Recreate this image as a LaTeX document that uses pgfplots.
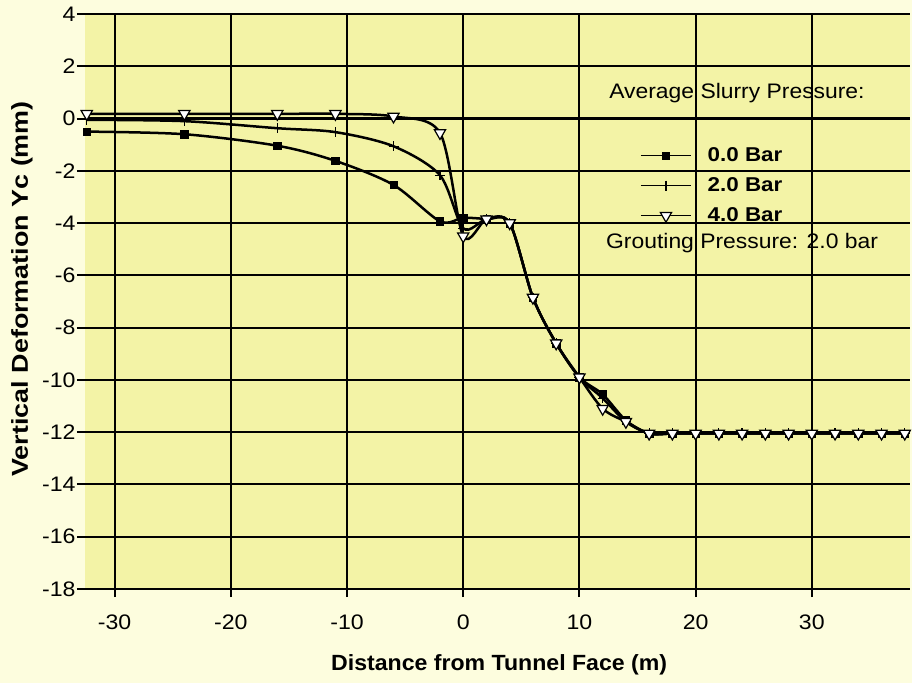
\documentclass[border=0pt]{standalone}
\usepackage{fontspec}
\setmainfont{Liberation Sans}
\newfontfamily\kfont[FakeStretch=1.1]{Liberation Sans}
\newfontfamily\tfont[FakeStretch=1.05]{Liberation Sans}
\newfontfamily\yfont[FakeStretch=1.17]{Liberation Sans}
\newfontfamily\lfont[FakeStretch=1.12]{Liberation Sans}
\newfontfamily\nfont[FakeStretch=1.09]{Liberation Sans}
\usepackage{pgfplots}
\pgfplotsset{compat=1.18}
\definecolor{outerbg}{RGB}{253,253,222}
\definecolor{plotbg}{RGB}{243,243,166}
\begin{document}
\begin{tikzpicture}[x=1pt,y=1pt]
\fill[outerbg] (0,0) rectangle (912,683);
\useasboundingbox (0,0) rectangle (912,683);
\begin{axis}[
  at={(85pt,94pt)}, anchor=south west,
  scale only axis, width=825pt, height=575pt,
  xmin=-32.55, xmax=38.45, ymin=-18, ymax=4,
  xtick={-30,-20,...,30}, ytick={-18,-16,...,4},
  grid=major, major grid style={black, line width=2pt},
  axis line style={draw=none},
  tick style={black, line width=2pt},
  major tick length=8pt, tick align=outside,
  xtick pos=bottom, ytick pos=left,
  ticklabel style={font=\kfont\fontsize{21}{22}\selectfont},
  xticklabel style={yshift=-14pt},
  yticklabel style={xshift=2pt},
  /pgf/number format/assume math mode=true,
  axis background/.style={fill=plotbg},
  extra y ticks={0}, extra y tick labels={},
  extra y tick style={major grid style={black, line width=3pt}},
  xlabel={Distance from Tunnel Face (m)},
  xlabel style={font=\tfont\bfseries\fontsize{22}{23}\selectfont, at={(axis description cs:0.502,-0.132)}, anchor=center},
  ylabel={Vertical Deformation Yc (mm)},
  ylabel style={font=\yfont\bfseries\fontsize{23}{24}\selectfont, at={(axis description cs:-0.0764,0.522)}, anchor=center},
  legend image code/.code={\draw[mark repeat=2,mark phase=2,#1,line width=1.4pt] plot coordinates {(0pt,0pt) (25pt,0pt) (50pt,0pt)};},
  legend style={at={(axis cs:15.22,-1.12)}, anchor=north west, draw=none, fill=none,
    inner sep=0pt, row sep=14.5pt, column sep=16pt,
    font=\lfont\bfseries\fontsize{20}{21}\selectfont,
    nodes={inner sep=0pt}},
  legend cell align=left,
  clip=false,
]
\addplot[black, line width=2.5pt, smooth, tension=0.5, mark=square*, mark size=3.7pt, mark options={solid, line width=0.5pt}]
coordinates {(-32.4,-0.5) (-24,-0.6) (-16,-1.04) (-11,-1.62) (-6,-2.54) (-2,-3.93) (0,-3.8) (2,-3.85) (4,-4.0) (6,-6.85) (8,-8.6) (10,-9.9) (12,-10.55) (14,-11.55) (16,-12.05) (18,-12.05) (20,-12.05) (22,-12.05) (24,-12.05) (26,-12.05) (28,-12.05) (30,-12.05) (32,-12.05) (34,-12.05) (36,-12.05) (38,-12.05)};
\addlegendentry{0.0 Bar}
\addplot[black, line width=2.5pt, smooth, tension=0.5, mark=+, mark size=5pt, mark options={solid, line width=1.2pt}]
coordinates {(-32.4,-0.05) (-24,-0.1) (-16,-0.37) (-11,-0.52) (-6,-1.06) (-2,-2.17) (0,-4.2) (2,-3.85) (4,-4.0) (6,-6.85) (8,-8.6) (10,-9.9) (12,-10.7) (14,-11.6) (16,-12.05) (18,-12.05) (20,-12.05) (22,-12.05) (24,-12.05) (26,-12.05) (28,-12.05) (30,-12.05) (32,-12.05) (34,-12.05) (36,-12.05) (38,-12.05)};
\addlegendentry{2.0 Bar}
\addplot[black, line width=2.5pt, smooth, tension=0.5, mark=triangle*, mark size=6.5pt, mark options={solid, rotate=180, fill=white, draw=black, line width=1.2pt}]
coordinates {(-32.4,0.18) (-24,0.18) (-16,0.18) (-11,0.18) (-6,0.08) (-2,-0.55) (0,-4.5) (2,-3.85) (4,-4.0) (6,-6.85) (8,-8.6) (10,-9.9) (12,-11.1) (14,-11.6) (16,-12.05) (18,-12.05) (20,-12.05) (22,-12.05) (24,-12.05) (26,-12.05) (28,-12.05) (30,-12.05) (32,-12.05) (34,-12.05) (36,-12.05) (38,-12.05)};
\addlegendentry{4.0 Bar}
\node[font=\nfont\fontsize{21}{22}\selectfont, inner sep=0pt] at (axis cs:23.56,0.96) {Average Slurry Pressure:};
\node[font=\nfont\fontsize{21}{22}\selectfont, inner sep=0pt] at (axis cs:24.0,-4.78) {Grouting Pressure: 2.0 bar};
\end{axis}
\end{tikzpicture}
\end{document}
